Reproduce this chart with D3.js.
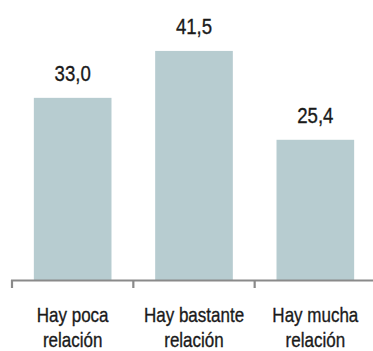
<!DOCTYPE html>
<html>
<head>
<meta charset="utf-8">
<script src="https://cdn.jsdelivr.net/npm/d3@7"></script>
<style>
  html, body { margin: 0; padding: 0; background: #fff; }
  svg { display: block; }
  text { font-family: "Liberation Sans", Arial, sans-serif; fill: #1a1a1a; stroke: #1a1a1a; stroke-width: 0.35px; }
</style>
</head>
<body>
<svg id="chart" width="373" height="351"></svg>
<script>
const categories = [["Hay poca", "relación"], ["Hay bastante", "relación"], ["Hay mucha", "relación"]];
const values = [33.0, 41.5, 25.4];
const valueLabels = ["33,0", "41,5", "25,4"];

const svg = d3.select("#chart");
const W = 373, H = 351;
const baseline = 280;
const squeeze = 0.81;

const keys = categories.map(c => c.join(" "));
const xSteps = d3.scaleBand().domain(keys).range([12, 376]).padding(0);
const x = d3.scaleBand().domain(keys).range([12, 376]).paddingInner(0.36).paddingOuter(0.18);
const y = d3.scaleLinear().domain([0, 50]).range([baseline, 4]);

// bars
svg.selectAll("rect.bar").data(values).join("rect")
  .attr("class", "bar")
  .attr("x", (d, i) => x(keys[i]))
  .attr("width", x.bandwidth())
  .attr("y", d => y(d))
  .attr("height", d => y(0) - y(d))
  .attr("fill", "#b7ccd0");

// value labels
svg.selectAll("text.val").data(values).join("text")
  .attr("class", "val")
  .attr("transform", (d, i) => `translate(${x(keys[i]) + x.bandwidth() / 2},${y(d) - 16.5}) scale(${squeeze},1)`)
  .attr("text-anchor", "middle")
  .attr("font-size", 23)
  .text((d, i) => valueLabels[i]);

// axis line with ticks at band boundaries
const axisColor = "#8a8a8a";
svg.append("line")
  .attr("x1", xSteps(keys[0]) - 1).attr("x2", W)
  .attr("y1", baseline + 0.5).attr("y2", baseline + 0.5)
  .attr("stroke", axisColor).attr("stroke-width", 2.2);
svg.selectAll("line.tick").data(keys).join("line")
  .attr("class", "tick")
  .attr("x1", d => xSteps(d)).attr("x2", d => xSteps(d))
  .attr("y1", baseline).attr("y2", baseline + 8)
  .attr("stroke", axisColor).attr("stroke-width", 2.2);

// category labels
const cat = svg.selectAll("text.cat").data(categories).join("text")
  .attr("class", "cat")
  .attr("transform", (d, i) => `translate(${x(keys[i]) + x.bandwidth() / 2},0) scale(${squeeze},1)`)
  .attr("text-anchor", "middle")
  .attr("font-size", 21);
cat.selectAll("tspan").data(d => d).join("tspan")
  .attr("x", 0)
  .attr("y", (d, j) => 321.8 + j * 25.5)
  .text(d => d);
</script>
</body>
</html>
